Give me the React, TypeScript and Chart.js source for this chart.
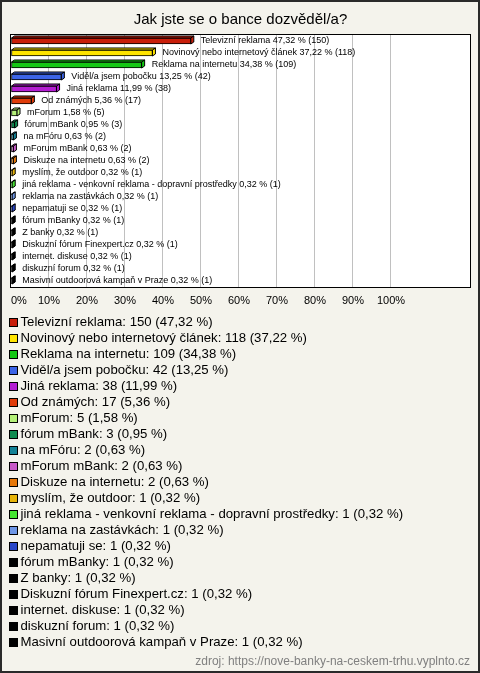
import React, { useEffect, useRef } from 'react';
import { Chart, registerables } from 'chart.js';

Chart.register(...registerables);

const titleText = 'Jak jste se o bance dozvěděl/a?';
const sourceText = 'zdroj: https://nove-banky-na-ceskem-trhu.vyplnto.cz';

const categories = [
  'Televizní reklama',
  'Novinový nebo internetový článek',
  'Reklama na internetu',
  'Viděl/a jsem pobočku',
  'Jiná reklama',
  'Od známých',
  'mForum',
  'fórum mBank',
  'na mFóru',
  'mForum mBank',
  'Diskuze na internetu',
  'myslím, že outdoor',
  'jiná reklama - venkovní reklama - dopravní prostředky',
  'reklama na zastávkách',
  'nepamatuji se',
  'fórum mBanky',
  'Z banky',
  'Diskuzní fórum Finexpert.cz',
  'internet. diskuse',
  'diskuzní forum',
  'Masivní outdoorová kampaň v Praze',
];

const counts = [150, 118, 109, 42, 38, 17, 5, 3, 2, 2, 2, 1, 1, 1, 1, 1, 1, 1, 1, 1, 1];

const percents = [
  47.32, 37.22, 34.38, 13.25, 11.99, 5.36, 1.58, 0.95, 0.63, 0.63, 0.63,
  0.32, 0.32, 0.32, 0.32, 0.32, 0.32, 0.32, 0.32, 0.32, 0.32,
];

const colors = [
  '#c81e0a', '#ffe400', '#14c814', '#3c64e6', '#b41ed2', '#e03c0a',
  '#b4f078', '#0f8c50', '#148296', '#c85ac8', '#e6780a', '#e6b40a',
  '#46e632', '#6e96e6', '#2846c8', '#000000', '#000000', '#000000',
  '#000000', '#000000', '#000000',
];

const xTickStep = 10;
const xTickLast = 100;
const xMax = 120.8;

const FONT = '"Liberation Sans", Arial, sans-serif';
const fmt = (v: number) => v.toFixed(2).replace('.', ',') + ' %';

const DX = 3;
const DY = 2;

const decorPlugin = {
  id: 'decor',
  beforeDraw(chart: any) {
    const { ctx, chartArea: a, width, height } = chart;
    ctx.save();
    ctx.fillStyle = '#f4f3ec';
    ctx.fillRect(0, 0, width, height);
    ctx.fillStyle = '#ffffff';
    ctx.fillRect(a.left, a.top, a.right - a.left, a.bottom - a.top);
    ctx.restore();
  },
  beforeDatasetsDraw(chart: any) {
    const { ctx, chartArea: a } = chart;
    ctx.save();
    ctx.strokeStyle = '#000';
    ctx.lineWidth = 1;
    ctx.strokeRect(a.left - 0.5, a.top - 0.5, a.right - a.left + 1, a.bottom - a.top + 1);
    const meta = chart.getDatasetMeta(0);
    meta.data.forEach((el: any, i: number) => {
      const { x, y, base, height } = el.getProps(['x', 'y', 'base', 'height'], true);
      const top = y - height / 2;
      const bottom = y + height / 2;
      ctx.fillStyle = colors[i];
      ctx.strokeStyle = '#000';
      ctx.lineWidth = 1;
      ctx.beginPath();
      ctx.moveTo(base, top);
      ctx.lineTo(base + DX, top - DY);
      ctx.lineTo(x + DX, top - DY);
      ctx.lineTo(x, top);
      ctx.closePath();
      ctx.fill();
      ctx.stroke();
      ctx.beginPath();
      ctx.moveTo(x, top);
      ctx.lineTo(x + DX, top - DY);
      ctx.lineTo(x + DX, bottom - DY);
      ctx.lineTo(x, bottom);
      ctx.closePath();
      ctx.fill();
      ctx.stroke();
    });
    ctx.restore();
  },
  afterDatasetsDraw(chart: any) {
    const { ctx } = chart;
    const meta = chart.getDatasetMeta(0);
    ctx.save();
    ctx.font = `9px ${FONT}`;
    ctx.fillStyle = '#000';
    ctx.textBaseline = 'middle';
    ctx.textAlign = 'left';
    meta.data.forEach((el: any, i: number) => {
      const { x, y } = el.getProps(['x', 'y'], true);
      ctx.fillText(`${categories[i]} ${fmt(percents[i])} (${counts[i]})`, x + 10, y - 0.5);
    });
    ctx.restore();
  },
  afterDraw(chart: any) {
    const { ctx, width, height } = chart;
    ctx.save();
    ctx.font = `13.2px ${FONT}`;
    ctx.textBaseline = 'middle';
    ctx.textAlign = 'left';
    categories.forEach((c, i) => {
      const y = 322 + i * 16;
      ctx.fillStyle = colors[i];
      ctx.fillRect(10, y - 3, 7, 7);
      ctx.strokeStyle = '#000';
      ctx.lineWidth = 1;
      ctx.strokeRect(9.5, y - 3.5, 8, 8);
      ctx.fillStyle = '#000';
      ctx.fillText(`${c}: ${counts[i]} (${fmt(percents[i])})`, 20.5, y + 0.5);
    });
    ctx.font = `12px ${FONT}`;
    ctx.fillStyle = '#808080';
    ctx.textAlign = 'right';
    ctx.fillText(sourceText, 470, 662);
    ctx.strokeStyle = '#2a2a2a';
    ctx.lineWidth = 2;
    ctx.strokeRect(1, 1, width - 2, height - 2);
    ctx.restore();
  },
};

export default function App() {
  const ref = useRef<HTMLCanvasElement>(null);
  useEffect(() => {
    document.body.style.margin = '0';
    const chart = new Chart(ref.current as HTMLCanvasElement, {
      type: 'bar',
      data: {
        labels: categories,
        datasets: [
          {
            data: percents,
            backgroundColor: colors,
            borderColor: '#000',
            borderWidth: 1,
            borderSkipped: false,
            barThickness: 6,
          } as any,
        ],
      },
      options: {
        indexAxis: 'y',
        responsive: false,
        devicePixelRatio: 1,
        animation: false,
        layout: { padding: { left: 11, right: 10, top: 0, bottom: 0 } },
        plugins: {
          legend: { display: false },
          tooltip: { enabled: false },
          title: {
            display: true,
            text: titleText,
            color: '#000',
            font: { family: FONT, size: 15, weight: 'normal' as any },
            padding: { top: 11, bottom: 6 },
          },
        },
        scales: {
          y: {
            type: 'category',
            display: false,
            offset: true,
            grid: { display: false },
          },
          x: {
            type: 'linear',
            min: 0,
            max: xMax,
            border: { display: false },
            grid: {
              drawTicks: false,
              lineWidth: 1,
              color: (c: any) =>
                c.tick && c.tick.value > 0 && c.tick.value <= xTickLast ? '#c0c0c0' : 'rgba(0,0,0,0)',
            },
            ticks: {
              stepSize: xTickStep,
              autoSkip: false,
              maxRotation: 0,
              align: 'inner',
              padding: 7,
              color: '#000',
              font: { family: FONT, size: 11 },
              callback: (v: any) => (v <= xTickLast && v % xTickStep === 0 ? v + '%' : ''),
            },
            afterFit: (scale: any) => {
              scale.height = 386;
            },
          },
        },
      } as any,
      plugins: [decorPlugin],
    });
    return () => chart.destroy();
  }, []);
  return (
    <canvas
      ref={ref}
      width={480}
      height={673}
      style={{ display: 'block', width: 480, height: 673 }}
    />
  );
}
